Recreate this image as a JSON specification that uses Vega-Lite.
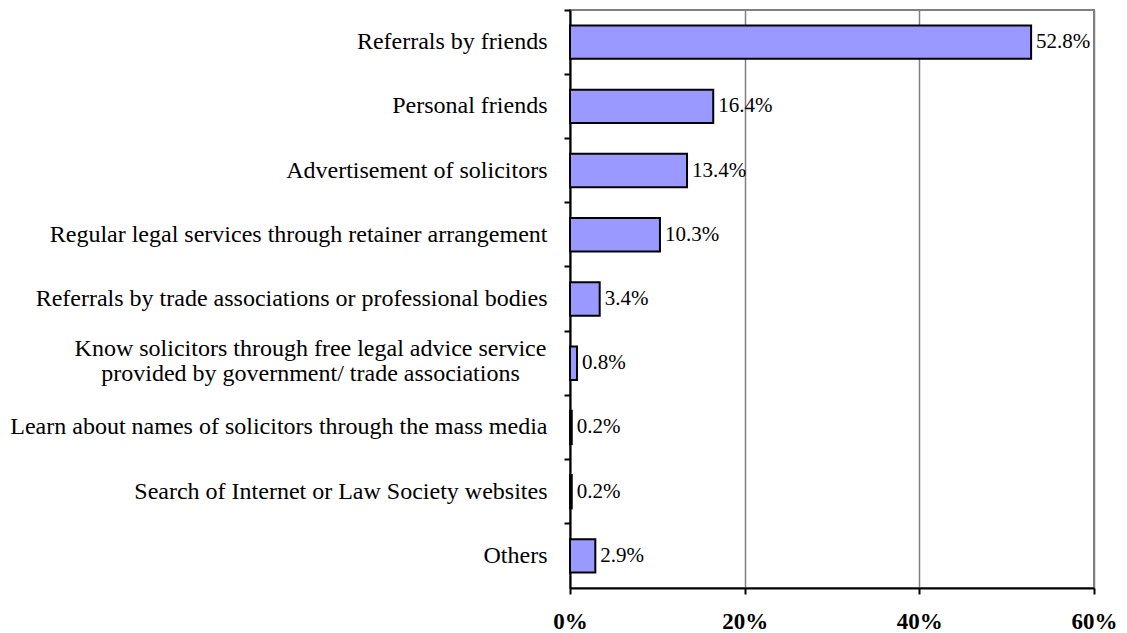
{
  "$schema": "https://vega.github.io/schema/vega-lite/v6.json",
  "width": 524,
  "height": 578,
  "autosize": "none",
  "padding": {"left": 570, "top": 10, "right": 33, "bottom": 45},
  "background": "white",
  "config": {
    "view": {"stroke": "#808080", "strokeWidth": 2},
    "font": "Liberation Serif"
  },
  "data": {
    "values": [
      {"cat": "Referrals by friends", "v": 0.528},
      {"cat": "Personal friends", "v": 0.164},
      {"cat": "Advertisement of solicitors", "v": 0.134},
      {"cat": "Regular legal services through retainer arrangement", "v": 0.103},
      {"cat": "Referrals by trade associations or professional bodies", "v": 0.034},
      {"cat": "Know solicitors through free legal advice service|provided by government/ trade associations", "v": 0.008},
      {"cat": "Learn about names of solicitors through the mass media", "v": 0.002},
      {"cat": "Search of Internet or Law Society websites", "v": 0.002},
      {"cat": "Others", "v": 0.029}
    ]
  },
  "encoding": {
    "y": {
      "field": "cat",
      "type": "nominal",
      "sort": null,
      "title": null,
      "scale": {"paddingInner": 0, "paddingOuter": 0},
      "axis": {
        "bandPosition": 0,
        "domainColor": "black",
        "domainWidth": 2,
        "tickColor": "black",
        "tickWidth": 2,
        "tickSize": 6,
        "labelFont": "Liberation Serif",
        "labelFontSize": 24,
        "labelColor": "black",
        "labelLimit": 700,
        "labelLineHeight": 25,
        "labelOffset": {"condition": {"test": "indexof(datum.value, '|') >= 0", "value": -14}, "value": 0},
        "labelPadding": {"condition": {"test": "indexof(datum.value, '|') >= 0", "value": 254}, "value": 17},
        "labelAlign": {"condition": {"test": "indexof(datum.value, '|') >= 0", "value": "center"}, "value": "right"},
        "labelExpr": "split(datum.value, '|')",
        "grid": false
      }
    },
    "x": {
      "field": "v",
      "type": "quantitative",
      "title": null,
      "scale": {"domain": [0, 0.6], "nice": false},
      "axis": {
        "format": ".0%",
        "values": [0, 0.2, 0.4, 0.6],
        "labelFlush": false,
        "domainColor": "black",
        "domainWidth": 2,
        "tickColor": "black",
        "tickWidth": 2,
        "tickSize": 6,
        "labelFont": "Liberation Serif",
        "labelFontSize": 23,
        "labelFontWeight": "bold",
        "labelColor": "black",
        "labelPadding": 16,
        "grid": true,
        "gridColor": "#808080",
        "gridWidth": 1.5
      }
    }
  },
  "layer": [
    {
      "mark": {"type": "bar", "fill": "#9999FF", "stroke": "black", "strokeWidth": 2, "height": {"band": 0.52}}
    },
    {
      "mark": {"type": "text", "align": "left", "dx": 5, "font": "Liberation Serif", "fontSize": 21, "color": "black", "baseline": "middle"},
      "encoding": {
        "text": {"field": "v", "type": "quantitative", "format": ".1%"}
      }
    }
  ]
}
